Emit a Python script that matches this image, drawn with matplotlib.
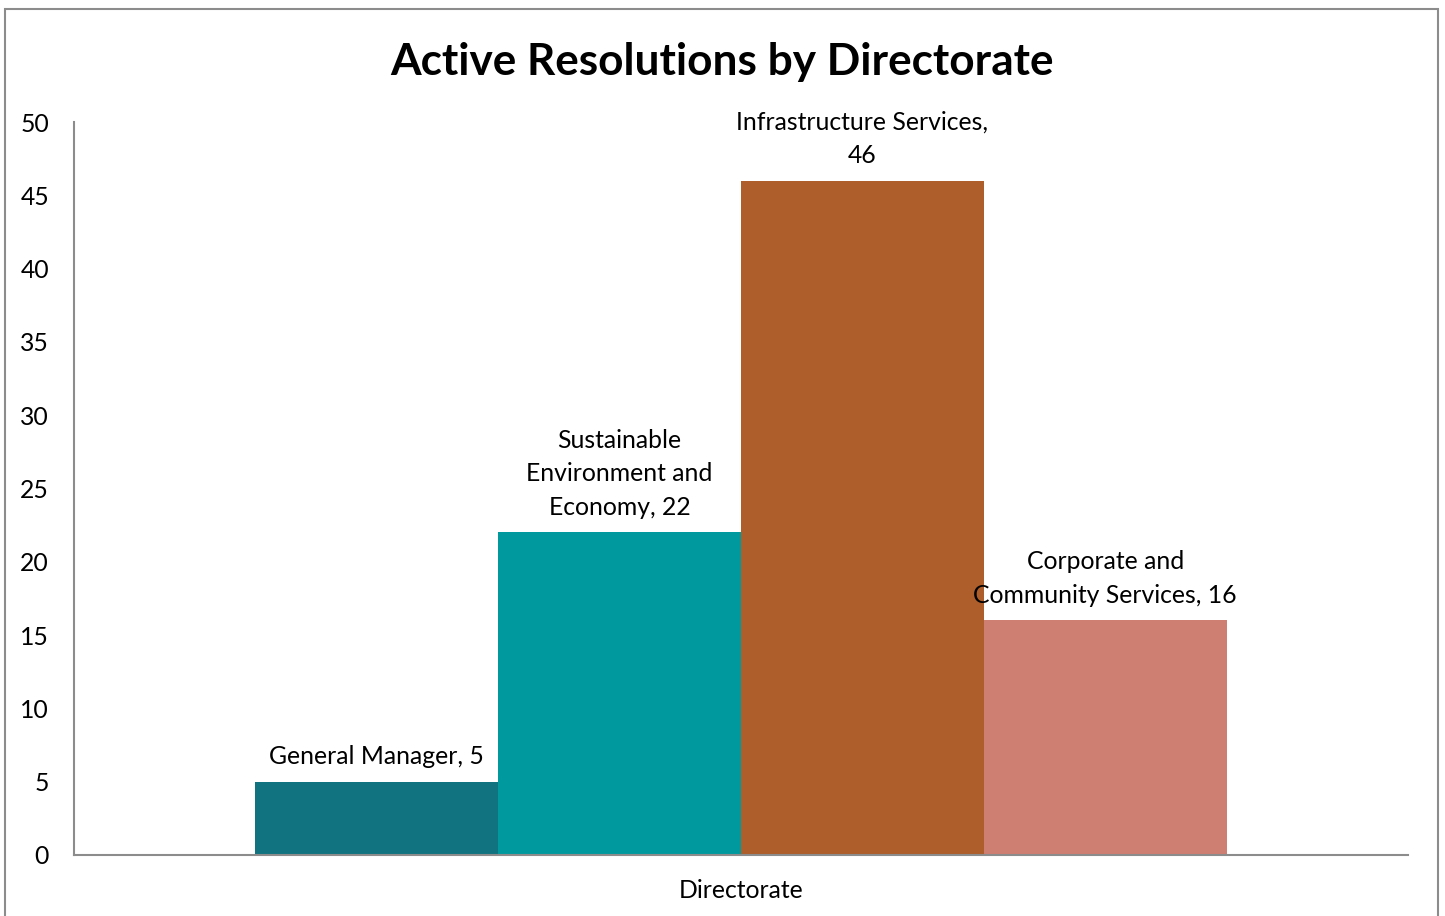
import matplotlib.pyplot as plt
from matplotlib.patches import Rectangle

plt.rcParams['font.family'] = ['Lato', 'DejaVu Sans']

directorates = ["General Manager", "Sustainable Environment and Economy",
                "Infrastructure Services", "Corporate and Community Services"]
resolutions = [5, 22, 46, 16]
labels = ["General Manager, 5", "Sustainable\nEnvironment and\nEconomy, 22",
          "Infrastructure Services,\n46", "Corporate and\nCommunity Services, 16"]
colors = ["#10737F", "#00999D", "#AD5E2A", "#CF7E72"]

fig = plt.figure(figsize=(14.45, 9.16), dpi=100)
ax = fig.add_axes([74 / 1445, 1 - 855 / 916, (1408 - 74) / 1445, (855 - 122) / 916])

# outer chart frame
fig.patches.append(Rectangle((5 / 1445, -0.05), (1438 - 5) / 1445, 1.05 - 9 / 916,
                             transform=fig.transFigure, fill=False,
                             edgecolor="#8c8c8c", linewidth=1.5))

w = 0.182
n = len(resolutions)
for i, (v, lab, c) in enumerate(zip(resolutions, labels, colors)):
    x = (i - (n - 1) / 2) * w
    ax.bar(x, v, width=w, color=c)
    ax.annotate(lab, (x, v), xytext=(0, 10), textcoords="offset points",
                ha="center", va="bottom", fontsize=17.8, linespacing=1.55)

ax.set_xlim(-0.5, 0.5)
ax.set_ylim(0, 50)
ax.set_yticks(range(0, 51, 5))
ax.set_xticks([0])
ax.set_xticklabels(["Directorate"], fontsize=17.8)
ax.tick_params(axis="both", length=0, labelsize=17.8)
ax.tick_params(axis="y", pad=18)
ax.tick_params(axis="x", pad=17)
for s in ["top", "right"]:
    ax.spines[s].set_visible(False)
for s in ["left", "bottom"]:
    ax.spines[s].set_color("#8c8c8c")
    ax.spines[s].set_linewidth(1.5)

fig.text(0.5, 1 - 62 / 916, "Active Resolutions by Directorate", ha="center",
         va="center", fontsize=31.8, fontweight="bold")

fig.savefig("out.png", dpi=100)
